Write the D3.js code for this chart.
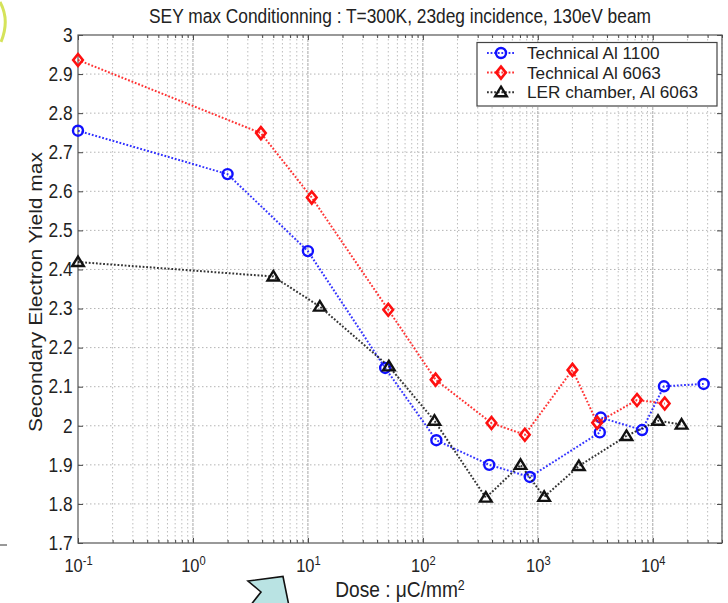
<!DOCTYPE html>
<html>
<head>
<meta charset="utf-8">
<script src="https://cdn.jsdelivr.net/npm/d3@7/dist/d3.min.js"></script>
<style>
  html, body { margin: 0; padding: 0; background: #ffffff; }
  svg { display: block; font-family: "Liberation Sans", Arial, Helvetica, sans-serif; }
</style>
</head>
<body>
<svg id="chart" width="728" height="603"></svg>
<script>
// ---------- data ----------
const titleText = "SEY max Conditionning : T=300K, 23deg incidence, 130eV beam";
const yLabelText = "Secondary Electron Yield max";
const seriesNames = ["Technical Al 1100", "Technical Al 6063", "LER chamber, Al 6063"];

const blueDose = [0.1, 2.0, 10, 47, 131, 378, 851, 3460, 3530, 8070, 12500, 27700];
const blueSEY  = [2.755, 2.644, 2.447, 2.148, 1.963, 1.900, 1.869, 1.983, 2.021, 1.989, 2.101, 2.107];

const redDose = [0.1, 3.9, 10.8, 50, 129, 395, 771, 2000, 3280, 7290, 12700];
const redSEY  = [2.936, 2.749, 2.584, 2.297, 2.118, 2.007, 1.977, 2.143, 2.008, 2.066, 2.057];

const blackDose = [0.1, 5.0, 12.7, 50.6, 126, 353, 707, 1135, 2275, 5900, 11100, 17800];
const blackSEY  = [2.419, 2.382, 2.305, 2.152, 2.013, 1.816, 1.900, 1.818, 1.897, 1.974, 2.013, 2.003];

const xDecades = [0.1, 1, 10, 100, 1000, 10000];
const xExponents = ["-1", "0", "1", "2", "3", "4"];
const yTicks = [1.7, 1.8, 1.9, 2.0, 2.1, 2.2, 2.3, 2.4, 2.5, 2.6, 2.7, 2.8, 2.9, 3.0];
const yTickLabels = ["1.7", "1.8", "1.9", "2", "2.1", "2.2", "2.3", "2.4", "2.5", "2.6", "2.7", "2.8", "2.9", "3"];
const xDomain = [0.1, 40000];
const yDomain = [1.7, 3.0];

// ---------- layout ----------
const svg = d3.select("#chart");
const L = 78, R = 722, T = 35, B = 543;
const SX = 0.89; // horizontal squeeze of lettering
const FS = 19.5;

const x = d3.scaleLog().domain(xDomain).range([L, R]);
const y = d3.scaleLinear().domain(yDomain).range([B, T]);

const minorX = [];
for (let d = -1; d <= 4; d++) {
  for (let k = 2; k <= 9; k++) {
    const v = k * Math.pow(10, d);
    if (v <= xDomain[1]) minorX.push(+v.toPrecision(3));
  }
}

// decorative clipped slide artifacts
svg.append("path").attr("d", "M0,2 Q10,20 1,42").attr("fill", "none")
  .attr("stroke", "#d5e35a").attr("stroke-width", 3);
svg.append("line").attr("x1", 0).attr("x2", 7).attr("y1", 545).attr("y2", 545)
  .attr("stroke", "#333").attr("stroke-width", 1);

// ---------- grid ----------
const grid = svg.append("g");
grid.selectAll(".gy").data(yTicks.slice(1, -1)).join("line")
  .attr("x1", L).attr("x2", R).attr("y1", d => y(d)).attr("y2", d => y(d))
  .attr("stroke", "#b4b4b4").attr("stroke-width", 1).attr("stroke-dasharray", "1.5,2.5");
grid.selectAll(".gxm").data(minorX).join("line")
  .attr("x1", d => x(d)).attr("x2", d => x(d)).attr("y1", T).attr("y2", B)
  .attr("stroke", "#bdbdbd").attr("stroke-width", 1).attr("stroke-dasharray", "1.5,2.5");
grid.selectAll(".gxM").data(xDecades.slice(1)).join("line")
  .attr("x1", d => x(d)).attr("x2", d => x(d)).attr("y1", T).attr("y2", B)
  .attr("stroke", "#a8a8a8").attr("stroke-width", 1).attr("stroke-dasharray", "3,1");

// ---------- axes ----------
function styleAxis(g) {
  g.select(".domain").remove();
  g.selectAll(".tick line").attr("stroke", "#444");
}
const bottom = svg.append("g").attr("transform", `translate(0,${B})`)
  .call(d3.axisBottom(x).tickValues(xDecades).tickSizeInner(-5).tickSizeOuter(0)
    .tickPadding(16).tickFormat(() => "10"));
styleAxis(bottom);
bottom.selectAll(".tick text")
  .attr("font-size", FS - 1).attr("fill", "#222").attr("font-family", "Liberation Sans, Arial, sans-serif")
  .attr("transform", `scale(${SX},1)`)
  .each(function(d, i) {
    d3.select(this).append("tspan").attr("dy", "-0.55em").attr("font-size", 12.5).text(xExponents[i]);
  });
svg.append("g").attr("transform", `translate(0,${B})`)
  .call(d3.axisBottom(x).tickValues(minorX).tickSizeInner(-3).tickSizeOuter(0).tickFormat(() => ""))
  .call(styleAxis);
svg.append("g").attr("transform", `translate(0,${T})`)
  .call(d3.axisTop(x).tickValues(xDecades).tickSizeInner(-5).tickSizeOuter(0).tickFormat(() => ""))
  .call(styleAxis);
svg.append("g").attr("transform", `translate(0,${T})`)
  .call(d3.axisTop(x).tickValues(minorX).tickSizeInner(-3).tickSizeOuter(0).tickFormat(() => ""))
  .call(styleAxis);

const left = svg.append("g").attr("transform", `translate(${L},0)`)
  .call(d3.axisLeft(y).tickValues(yTicks).tickSizeInner(-5).tickSizeOuter(0)
    .tickPadding(6).tickFormat((d, i) => yTickLabels[i]));
styleAxis(left);
left.selectAll(".tick text")
  .attr("font-size", FS).attr("fill", "#222").attr("font-family", "Liberation Sans, Arial, sans-serif")
  .attr("transform", `scale(${SX},1)`);
svg.append("g").attr("transform", `translate(${R},0)`)
  .call(d3.axisRight(y).tickValues(yTicks).tickSizeInner(-5).tickSizeOuter(0).tickFormat(() => ""))
  .call(styleAxis);

// frame
svg.append("rect").attr("x", L).attr("y", T).attr("width", R - L).attr("height", B - T)
  .attr("fill", "none").attr("stroke", "#555").attr("stroke-width", 1.2);

// ---------- series ----------
const circlePath = "M5,0 A5,5 0 1,1 -5,0 A5,5 0 1,1 5,0 Z";
const diamondPath = "M0,-6 L4.8,0 L0,6 L-4.8,0 Z";
const trianglePath = "M0,-5.5 L5.8,4 L-5.8,4 Z";
const series = [
  { name: seriesNames[0], xs: blueDose, ys: blueSEY, color: "#1010ff", marker: circlePath, sw: 2.4 },
  { name: seriesNames[1], xs: redDose, ys: redSEY, color: "#ff1010", marker: diamondPath, sw: 2.6 },
  { name: seriesNames[2], xs: blackDose, ys: blackSEY, color: "#111111", marker: trianglePath, sw: 2.4 }
];
const line = d3.line().x(d => x(d[0])).y(d => y(d[1]));

series.forEach(s => {
  const pts = s.xs.map((v, i) => [v, s.ys[i]]);
  svg.append("path").datum(pts).attr("d", line).attr("fill", "none")
    .attr("stroke", s.color).attr("stroke-width", 2).attr("stroke-dasharray", "1.8,1.8")
    .attr("opacity", 0.85);
  svg.append("g").selectAll("path").data(pts).join("path")
    .attr("d", s.marker)
    .attr("transform", d => `translate(${x(d[0])},${y(d[1])})`)
    .attr("fill", "none").attr("stroke", s.color).attr("stroke-width", s.sw);
});

// ---------- legend ----------
const lg = svg.append("g");
lg.append("rect").attr("x", 477).attr("y", 42.5).attr("width", 240).attr("height", 63.5)
  .attr("fill", "#fff").attr("stroke", "#444").attr("stroke-width", 1.2);
series.forEach((s, i) => {
  const yy = 53 + i * 19.6;
  lg.append("line").attr("x1", 487).attr("x2", 515).attr("y1", yy).attr("y2", yy)
    .attr("stroke", s.color).attr("stroke-width", 2).attr("stroke-dasharray", "1.8,1.8").attr("opacity", 0.85);
  lg.append("path").attr("d", s.marker).attr("transform", `translate(501,${yy})`)
    .attr("fill", "none").attr("stroke", s.color).attr("stroke-width", s.sw);
  lg.append("text").attr("x", 527).attr("y", yy).attr("dy", "0.36em")
    .attr("font-size", 17.2).attr("fill", "#222").text(s.name);
});

// ---------- titles ----------
svg.append("g").attr("transform", `translate(${(L + R) / 2},${23}) scale(${SX},1)`)
  .append("text").attr("text-anchor", "middle").attr("font-size", FS).attr("fill", "#222")
  .text(titleText);

const xl = svg.append("g").attr("transform", `translate(400,${597}) scale(${SX},1)`)
  .append("text").attr("text-anchor", "middle").attr("font-size", 21.5).attr("fill", "#222");
xl.append("tspan").text("Dose : \u03BCC/mm");
xl.append("tspan").attr("dy", "-0.5em").attr("font-size", 14).text("2");

svg.append("g").attr("transform", `translate(42,292) rotate(-90) scale(1,${SX})`)
  .append("text").attr("text-anchor", "middle").attr("font-size", 21).attr("fill", "#222")
  .text(yLabelText);

// light-cyan callout shape at the bottom (clipped by frame)
svg.append("path")
  .attr("d", "M248,581 L283,576.5 L289,606 L250,606 L261,592 Z")
  .attr("fill", "#b9e3e3").attr("stroke", "#111").attr("stroke-width", 1.6);
</script>
</body>
</html>
